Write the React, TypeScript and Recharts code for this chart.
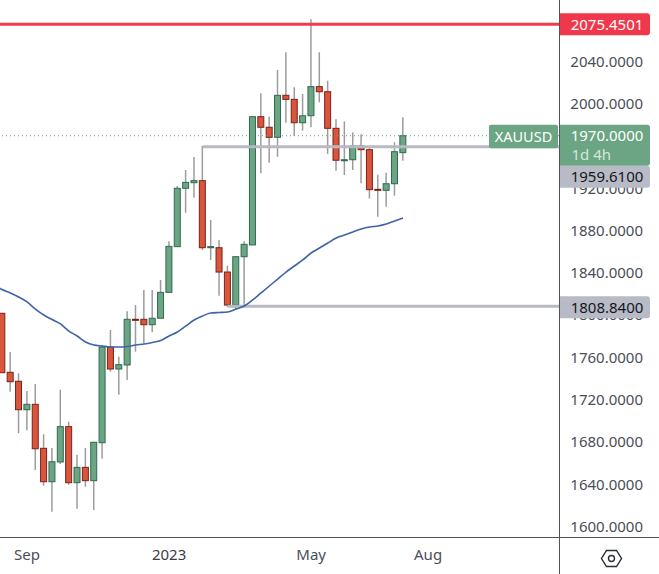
import React from "react";
import { Bar, ComposedChart, Line, ReferenceLine, XAxis, YAxis } from "recharts";

// first row (-1) only carries the moving average, its candle is off the left edge
const opens = [null, 1802.1, 1746.3, 1737.8, 1710.9, 1716.0, 1674.4, 1642.8, 1661.5, 1694.9, 1641.9, 1656.4, 1643.8, 1679.7, 1770.2, 1749.4, 1753.2, 1796.4, 1796.4, 1791.3, 1797.4, 1821.9, 1865.1, 1920.3, 1925.6, 1927.5, 1864.1, 1864.1, 1841.1, 1809.9, 1855.6, 1866.7, 1988.0, 1978.0, 1968.5, 2008.2, 2004.4, 1982.3, 1988.9, 2016.4, 2011.6, 1977.0, 1946.4, 1947.3, 1960.3, 1956.8, 1919.3, 1918.4, 1924.6, 1954.0];
const closes = [null, 1745.9, 1737.4, 1710.9, 1716.0, 1674.0, 1642.8, 1661.7, 1694.9, 1641.9, 1656.4, 1643.8, 1680.1, 1770.2, 1749.4, 1753.5, 1796.4, 1795.7, 1791.3, 1797.4, 1821.9, 1865.4, 1920.3, 1925.9, 1927.5, 1864.1, 1865.1, 1841.1, 1809.9, 1855.6, 1867.3, 1988.0, 1978.0, 1968.5, 2008.2, 2004.4, 1982.3, 1988.9, 2016.4, 2011.6, 1977.0, 1946.8, 1947.3, 1960.3, 1956.8, 1919.0, 1918.4, 1924.6, 1954.9, 1970.0];
const highs = [null, 1802.1, 1765.5, 1745.3, 1728.6, 1735.2, 1687.7, 1674.7, 1729.8, 1699.6, 1668.4, 1674.7, 1680.7, 1772.1, 1786.3, 1761.0, 1804.0, 1809.9, 1824.1, 1824.1, 1833.6, 1870.2, 1922.5, 1937.6, 1949.9, 1960.3, 1890.3, 1871.4, 1847.1, 1855.6, 1870.2, 1988.0, 2010.1, 1988.0, 2032.2, 2048.9, 2015.8, 2009.5, 2080.1, 2048.9, 2022.0, 1985.5, 1983.6, 1973.2, 1971.4, 1959.1, 1933.2, 1935.0, 1963.8, 1987.4];
const lows = [null, 1745.9, 1727.9, 1688.6, 1691.4, 1653.9, 1639.0, 1614.5, 1659.6, 1640.0, 1617.3, 1638.1, 1616.1, 1664.6, 1746.9, 1725.1, 1739.0, 1765.8, 1773.7, 1784.1, 1797.4, 1821.9, 1865.1, 1897.2, 1911.4, 1861.9, 1852.5, 1818.7, 1808.3, 1805.2, 1808.3, 1866.7, 1934.5, 1944.5, 1950.2, 1982.3, 1969.7, 1974.8, 1978.0, 2001.6, 1952.7, 1936.9, 1932.9, 1937.6, 1925.0, 1910.5, 1893.4, 1902.9, 1913.3, 1946.4];
const average = [1829.0, 1824.6, 1821.3, 1817.5, 1812.8, 1806.1, 1800.5, 1796.2, 1792.0, 1785.3, 1780.6, 1775.0, 1772.1, 1771.2, 1770.2, 1770.2, 1770.7, 1772.1, 1773.0, 1774.5, 1776.4, 1780.6, 1784.4, 1790.1, 1795.7, 1799.5, 1802.4, 1802.8, 1803.3, 1806.1, 1809.0, 1814.7, 1821.3, 1827.9, 1834.5, 1841.1, 1846.8, 1852.5, 1859.1, 1863.8, 1868.6, 1873.3, 1876.1, 1879.0, 1881.8, 1883.7, 1884.6, 1886.5, 1889.4, 1892.2];

// 1960 sits fully under the last price badge, so it is left out
const priceTicks = [2040, 2000, 1920, 1880, 1840, 1800, 1760, 1720, 1680, 1640, 1600];
const timeTicks = [3, 20, 37, 51];
const timeLabels = ["Sep", "2023", "May", "Aug"];

const highLevel = 2075.4501;
const lastPrice = 1970;
const upperLevel = 1959.61;
const lowerLevel = 1808.84;

const data = opens.map((open, i) => ({
  index: i - 1,
  open,
  close: closes[i],
  high: highs[i],
  low: lows[i],
  average: average[i],
}));

const font = "'Noto Sans', sans-serif";
const minX = -0.2394;
const maxX = 66.67;

function Candle(props: any) {
  const { x, y, width, height, payload } = props;
  if (payload.open == null) return null;
  const { open, close, high, low } = payload;
  const perUnit = height / (high - low);
  const top = y + (high - Math.max(open, close)) * perUnit;
  const bodyHeight = Math.max(Math.abs(open - close) * perUnit, 1);
  const up = close >= open;
  return (
    <g>
      <line x1={x + width / 2} x2={x + width / 2} y1={y} y2={y + height} stroke="#9c9c9c" strokeWidth={1.5} />
      <rect
        x={x}
        y={top}
        width={width}
        height={bodyHeight}
        fill={up ? "#6ba584" : "#da553e"}
        stroke={up ? "#2f6a50" : "#7c2116"}
        strokeWidth={1}
      />
    </g>
  );
}

function Badge({ y, height, fill, color, text, sub }: any) {
  return (
    <g>
      <path
        d={`M559 ${y}H647a3 3 0 0 1 3 3V${y + height - 3}a3 3 0 0 1 -3 3H559Z`}
        fill={fill}
      />
      <text x={607} y={y + 16.5} textAnchor="middle" fontFamily={font} fontSize={15} fill={color}>
        {text}
      </text>
      {sub && (
        <text x={571.5} y={y + 35.5} fontFamily={font} fontSize={15} fill="#d3e8da">
          {sub}
        </text>
      )}
    </g>
  );
}

function PriceTick({ y, payload }: any) {
  const value = payload.value;
  if (value === highLevel) {
    return <Badge y={y - 11} height={22} fill="#f0384c" color="#ffffff" text="2075.4501" />;
  }
  if (value === lastPrice) {
    return (
      <g>
        <rect x={489} y={y - 11} width={69} height={23.5} rx={2} fill="#6ba584" />
        <text x={523.5} y={y + 6} textAnchor="middle" fontFamily={font} fontSize={14.5} fill="#ffffff">
          XAUUSD
        </text>
        <Badge y={y - 11} height={41} fill="#6ba584" color="#ffffff" text="1970.0000" sub="1d 4h" />
      </g>
    );
  }
  if (value === upperLevel) {
    // pushed down under the last price badge
    return <Badge y={y + 19} height={22} fill="#b8bac5" color="#131722" text="1959.6100" />;
  }
  if (value === lowerLevel) {
    return <Badge y={y - 10} height={22} fill="#b8bac5" color="#131722" text="1808.8400" />;
  }
  return (
    <text x={643} y={y + 5} textAnchor="end" fontFamily={font} fontSize={15} fill="#4b4e57">
      {value.toFixed(4)}
    </text>
  );
}

function TimeTick({ x, y, payload }: any) {
  const label = timeLabels[timeTicks.indexOf(payload.value)];
  return (
    <text
      x={x}
      y={y + 15}
      textAnchor="middle"
      fontFamily={font}
      fontSize={15}
      fill={label === "2023" ? "#3a3d46" : "#4b4e57"}
    >
      {label}
    </text>
  );
}

export default function App() {
  return (
    <div style={{ position: "absolute", left: 0, top: 0, width: 659, height: 574, background: "#fff" }}>
      <ComposedChart
        width={659}
        height={574}
        data={data}
        margin={{ top: 0, right: 0, bottom: 0, left: 0 }}
      >
        <XAxis
          dataKey="index"
          type="number"
          domain={[minX, maxX]}
          allowDataOverflow
          ticks={timeTicks}
          interval={0}
          height={37}
          axisLine={false}
          tickLine={false}
          tick={<TimeTick />}
        />
        <YAxis
          orientation="right"
          width={100}
          domain={[1590.54, 2098.35]}
          allowDataOverflow
          ticks={[...priceTicks, highLevel, lowerLevel, upperLevel, lastPrice]}
          interval={0}
          axisLine={false}
          tickLine={false}
          tick={<PriceTick />}
        />
        <ReferenceLine y={lastPrice} stroke="#5f9f7c" strokeWidth={1} strokeDasharray="1 3" />
        <ReferenceLine y={highLevel} stroke="#ee3b4e" strokeWidth={3} />
        <ReferenceLine
          segment={[{ x: 24, y: upperLevel }, { x: maxX, y: upperLevel }]}
          stroke="#b8bac2"
          strokeWidth={3}
        />
        <ReferenceLine
          segment={[{ x: 27, y: lowerLevel }, { x: maxX, y: lowerLevel }]}
          stroke="#b8bac2"
          strokeWidth={3}
        />
        <Bar
          dataKey={(d: any) => (d.open == null ? null : [d.low, d.high])}
          barSize={6}
          shape={<Candle />}
          isAnimationActive={false}
        />
        <Line
          dataKey="average"
          type="monotone"
          stroke="#3f62a8"
          strokeWidth={1.6}
          dot={false}
          activeDot={false}
          isAnimationActive={false}
        />
      </ComposedChart>
      <div style={{ position: "absolute", left: 559, top: 0, width: 1, height: 574, background: "#50535e" }} />
      <div style={{ position: "absolute", left: 0, top: 537, width: 659, height: 1, background: "#50535e" }} />
      <svg style={{ position: "absolute", left: 600, top: 549 }} width={23} height={19} fill="none" stroke="#2a2e39" strokeWidth={1.4}>
        <path d="M6.5 1.5H16.5L21.5 9.5L16.5 17.5H6.5L1.5 9.5Z" />
        <circle cx={11.5} cy={9.5} r={3} />
      </svg>
    </div>
  );
}
